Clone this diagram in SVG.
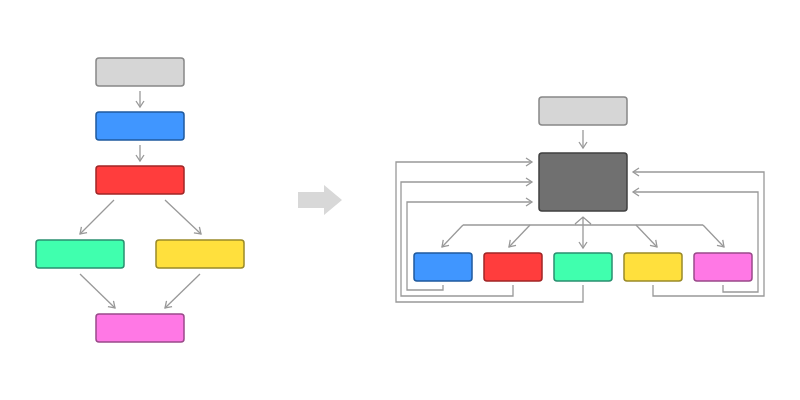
<svg xmlns="http://www.w3.org/2000/svg" width="800" height="400" viewBox="0 0 800 400">
<defs>
<marker id="ah" markerWidth="10" markerHeight="10" refX="8" refY="5" orient="auto" markerUnits="userSpaceOnUse"><path d="M2,1 L8,5 L2,9" fill="none" stroke="#999" stroke-width="1.3"/></marker>
</defs>
<style>
.n{stroke-width:1.5}
.c{fill:none;stroke:#999;stroke-width:1.3;marker-end:url(#ah)}
</style>
<rect width="800" height="400" fill="#fff"/>
<g id="connectors">
<path class="c" d="M140,91 V107"/>
<path class="c" d="M140,145 V161"/>
<path class="c" d="M114,200 L80,234"/>
<path class="c" d="M165,200 L201,234"/>
<path class="c" d="M80,274 L115,308"/>
<path class="c" d="M200,274 L165,308"/>
<path class="c" d="M583,130 V148"/>
<path fill="none" stroke="#999" stroke-width="1.3" d="M463,225 H703 M583,217 V225 M575,224 L583,217 L591,224"/>
<path class="c" d="M463,225 L442,247"/>
<path class="c" d="M530,225 L509,247"/>
<path class="c" d="M583,225 V248"/>
<path class="c" d="M636,225 L657,247"/>
<path class="c" d="M703,225 L724,247"/>
<path class="c" d="M443,285 V290 H407 V202 H532"/>
<path class="c" d="M513,285 V296 H401 V182 H532"/>
<path class="c" d="M583,285 V302 H396 V162 H532"/>
<path class="c" d="M653,285 V296 H764 V172 H633"/>
<path class="c" d="M723,285 V292 H758 V192 H633"/>
<path d="M298,192 H324 V185 L342,200 L324,215 V208 H298 Z" fill="#d8d8d8"/>
</g>
<g id="l-gray"><rect class="n" x="96" y="58" width="88" height="28" rx="3" fill="#d6d6d6" stroke="#888"/></g>
<g id="l-blue"><rect class="n" x="96" y="112" width="88" height="28" rx="3" fill="#4096ff" stroke="#1f5a9e"/></g>
<g id="l-red"><rect class="n" x="96" y="166" width="88" height="28" rx="3" fill="#ff3d3d" stroke="#a12626"/></g>
<g id="l-green"><rect class="n" x="36" y="240" width="88" height="28" rx="3" fill="#40ffae" stroke="#2a9070"/></g>
<g id="l-yellow"><rect class="n" x="156" y="240" width="88" height="28" rx="3" fill="#ffe03d" stroke="#9a8a28"/></g>
<g id="l-pink"><rect class="n" x="96" y="314" width="88" height="28" rx="3" fill="#ff78e5" stroke="#9a4a8a"/></g>
<g id="r-gray"><rect class="n" x="539" y="97" width="88" height="28" rx="3" fill="#d6d6d6" stroke="#888"/></g>
<g id="r-dark"><rect class="n" x="539" y="153" width="88" height="58" rx="3" fill="#707070" stroke="#404040"/></g>
<g id="r-blue"><rect class="n" x="414" y="253" width="58" height="28" rx="3" fill="#4096ff" stroke="#1f5a9e"/></g>
<g id="r-red"><rect class="n" x="484" y="253" width="58" height="28" rx="3" fill="#ff3d3d" stroke="#a12626"/></g>
<g id="r-green"><rect class="n" x="554" y="253" width="58" height="28" rx="3" fill="#40ffae" stroke="#2a9070"/></g>
<g id="r-yellow"><rect class="n" x="624" y="253" width="58" height="28" rx="3" fill="#ffe03d" stroke="#9a8a28"/></g>
<g id="r-pink"><rect class="n" x="694" y="253" width="58" height="28" rx="3" fill="#ff78e5" stroke="#9a4a8a"/></g>
</svg>
